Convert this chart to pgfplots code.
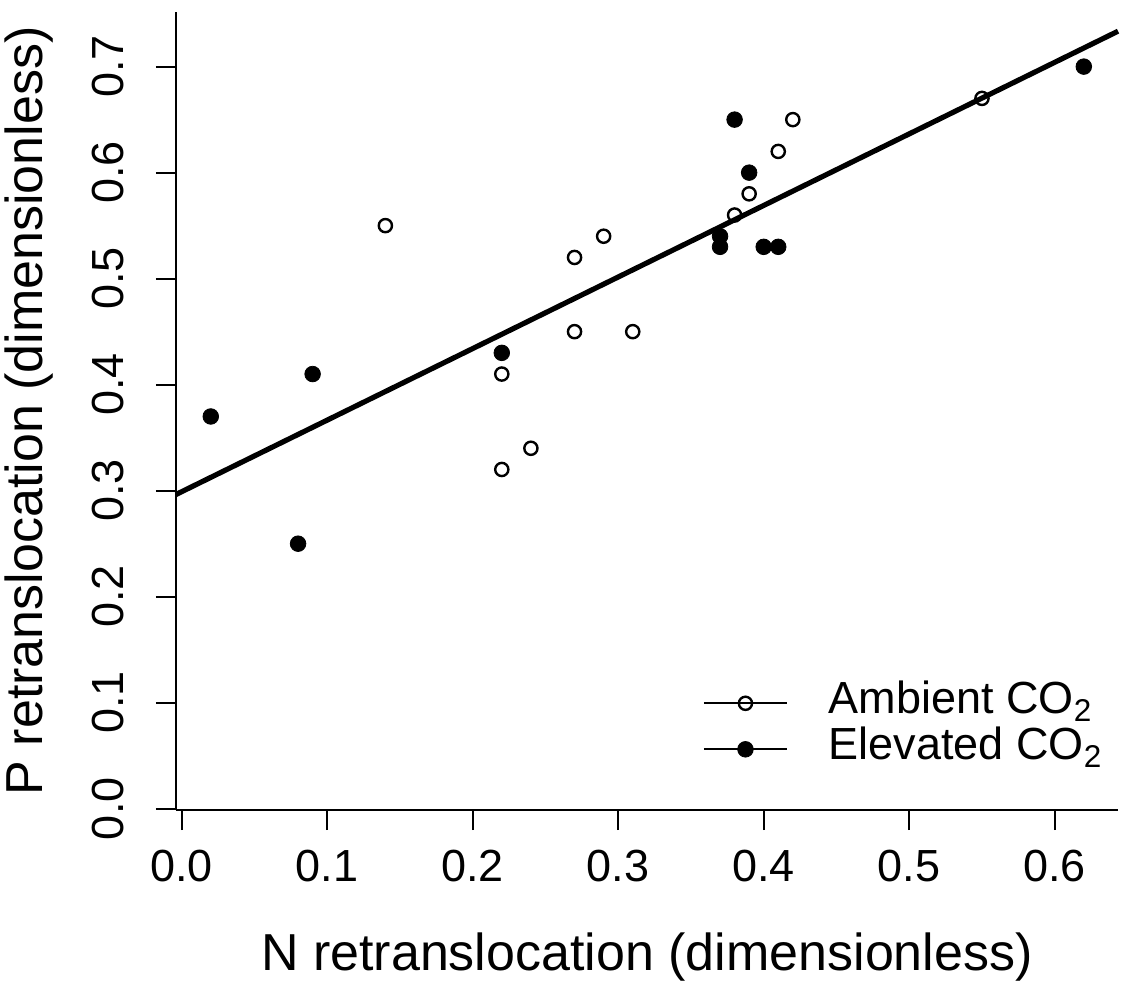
\documentclass[border=0pt]{standalone}
\usepackage{fontspec}
\setmainfont{Liberation Sans}
\usepackage{pgfplots}
\pgfplotsset{compat=1.18}
\pgfplotsset{
  legend image code/.code={
    \draw[black,line width=1pt] (0pt,0pt) -- (41.5pt,0pt);
    \draw[#1] plot coordinates {(20.75pt,0pt)};
  }
}
\begin{document}
\begin{tikzpicture}
\begin{axis}[
  at={(0pt,0pt)}, anchor=south west,
  scale only axis, width=471pt, height=399.2pt,
  xmin=-0.0039, xmax=0.6435, ymin=-0.0012, ymax=0.7519,
  axis lines=left,
  axis line style={-, line width=1pt, black},
  xtick={0,0.1,0.2,0.3,0.4,0.5,0.6},
  ytick={0,0.1,0.2,0.3,0.4,0.5,0.6,0.7},
  minor tick num=0,
  tick align=outside, major tick length=10pt,
  tick style={line width=1pt, black},
  /pgf/number format/assume math mode=true,
  /pgf/number format/fixed, /pgf/number format/fixed zerofill,
  /pgf/number format/precision=1,
  ticklabel style={font=\fontsize{22.5}{27}\selectfont, inner sep=0pt},
  xticklabel style={anchor=north},
  yticklabel style={rotate=90, anchor=south},
  xticklabel shift=10pt, yticklabel shift=16pt,
  xlabel={N retranslocation (dimensionless)},
  ylabel={P retranslocation (dimensionless)},
  label style={font=\fontsize{26}{31}\selectfont, inner sep=0pt},
  xlabel style={at={([yshift=-80.4pt]axis description cs:0.5,0)}, anchor=base},
  ylabel style={at={([xshift=-66.5pt]axis description cs:0,0.5)}, anchor=base},
  legend style={at={(0.5594,0.1612)}, anchor=north west, draw=none, fill=none,
    inner sep=0pt, outer sep=0pt, row sep=1pt, column sep=20.35pt,
    font=\fontsize{22.5}{27}\selectfont,
    nodes={inner sep=0pt, anchor=west, text height=16pt, text depth=6pt}},
  clip=false,
]
\addplot[only marks, mark=o, mark size=3.3pt, mark options={line width=1.2pt, black}]
  coordinates {
  (0.14,0.55) (0.22,0.41) (0.22,0.32) (0.24,0.34) (0.27,0.52) (0.27,0.45)
  (0.29,0.54) (0.31,0.45) (0.38,0.56) (0.39,0.58) (0.41,0.62) (0.42,0.65)
  (0.55,0.67)
  };
\addlegendentry{Ambient CO\textsubscript{2}}
\addplot[only marks, mark=*, mark size=3.9pt, mark options={line width=0.4pt, black, fill=black}]
  coordinates {
  (0.02,0.37) (0.08,0.25) (0.09,0.41) (0.22,0.43) (0.37,0.54) (0.37,0.53)
  (0.38,0.65) (0.39,0.60) (0.40,0.53) (0.41,0.53) (0.62,0.70)
  };
\addlegendentry{Elevated CO\textsubscript{2}}
\addplot[black, line width=2.6pt, no marks, forget plot]
  coordinates {(-0.0039,0.2964) (0.6435,0.7334)};
\end{axis}
\pgfresetboundingbox
\path[use as bounding box] (-88pt,-92pt) rectangle (481pt,405pt);
\end{tikzpicture}
\end{document}
